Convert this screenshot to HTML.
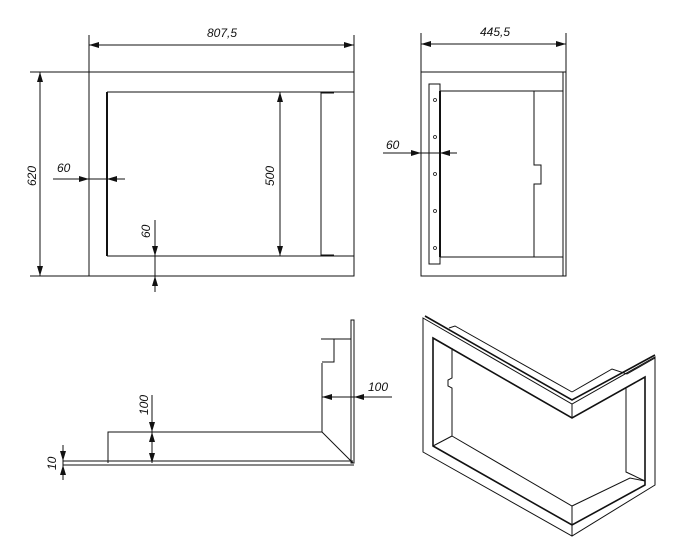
<!DOCTYPE html>
<html><head><style>
html,body{margin:0;padding:0;background:#fff;}
svg{display:block}
text{font-family:"Liberation Sans",sans-serif;font-style:italic;font-size:12px;fill:#111}
</style></head><body>
<svg width="698" height="553" viewBox="0 0 698 553" xmlns="http://www.w3.org/2000/svg">
<defs>
<marker id="a" viewBox="0 0 10 6" refX="10" refY="3" markerWidth="10" markerHeight="6" orient="auto-start-reverse" markerUnits="userSpaceOnUse"><path d="M0,0L10,3L0,6z" fill="#111"/></marker>
</defs>
<g stroke="#111" fill="none" stroke-width="1">
<!-- front view -->
<rect x="89" y="72" width="265" height="204"/>
<line x1="30" y1="72" x2="89" y2="72"/><line x1="30" y1="276" x2="89" y2="276"/>
<line x1="89" y1="35" x2="89" y2="72"/><line x1="354" y1="35" x2="354" y2="72"/>
<line x1="89" y1="45" x2="354" y2="45" marker-start="url(#a)" marker-end="url(#a)"/>
<line x1="40" y1="72" x2="40" y2="276" marker-start="url(#a)" marker-end="url(#a)"/>
<line x1="107" y1="92" x2="354" y2="92"/><line x1="107" y1="256" x2="354" y2="256"/>
<line x1="107" y1="92" x2="107" y2="256" stroke-width="2"/>
<line x1="321" y1="92" x2="321" y2="256"/>
<line x1="321" y1="93" x2="334" y2="93"/><line x1="321" y1="255" x2="334" y2="255"/>
<line x1="280" y1="92" x2="280" y2="256" marker-start="url(#a)" marker-end="url(#a)"/>
<line x1="53" y1="179" x2="125" y2="179"/>
<line x1="78" y1="179" x2="89" y2="179" marker-end="url(#a)"/>
<line x1="118" y1="179" x2="107" y2="179" marker-end="url(#a)"/>
<line x1="155" y1="220" x2="155" y2="292"/>
<line x1="155" y1="245" x2="155" y2="256" marker-end="url(#a)"/>
<line x1="155" y1="287" x2="155" y2="276" marker-end="url(#a)"/>
<!-- side view -->
<rect x="421" y="72" width="145" height="204"/>
<line x1="563" y1="72" x2="563" y2="276"/>
<line x1="421" y1="33" x2="421" y2="72"/><line x1="566" y1="33" x2="566" y2="72"/>
<line x1="421" y1="44" x2="566" y2="44" marker-start="url(#a)" marker-end="url(#a)"/>
<rect x="429" y="84" width="11" height="180"/>
<line x1="440" y1="91" x2="563" y2="91"/><line x1="440" y1="257" x2="563" y2="257"/>
<line x1="440" y1="91" x2="440" y2="257" stroke-width="2"/>
<path d="M534 91V165H541V184H534V257"/>
<g stroke-width="0.8"><circle cx="435" cy="100" r="1.5"/><circle cx="435" cy="137" r="1.5"/><circle cx="435" cy="174" r="1.5"/><circle cx="435" cy="211" r="1.5"/><circle cx="435" cy="248" r="1.5"/></g>
<line x1="383" y1="153" x2="457" y2="153"/>
<line x1="410" y1="153" x2="421" y2="153" marker-end="url(#a)"/>
<line x1="451" y1="153" x2="440" y2="153" marker-end="url(#a)"/>
<!-- section -->
<rect x="351" y="320" width="3" height="143"/>
<line x1="63" y1="461" x2="353" y2="461"/><line x1="63" y1="465" x2="354" y2="465"/>
<path d="M108 463V432H322V363"/>
<line x1="322" y1="432" x2="353" y2="463"/>
<path d="M321 339H351M334 339V362H322"/>
<line x1="152" y1="395" x2="152" y2="463"/>
<line x1="152" y1="421" x2="152" y2="432" marker-end="url(#a)"/>
<line x1="152" y1="443" x2="152" y2="432" marker-end="url(#a)"/>
<line x1="152" y1="452" x2="152" y2="463" marker-end="url(#a)"/>
<line x1="322" y1="397" x2="392" y2="397"/>
<line x1="365" y1="397" x2="354" y2="397" marker-end="url(#a)"/>
<line x1="333" y1="397" x2="322" y2="397" marker-end="url(#a)"/>
<line x1="63" y1="445" x2="63" y2="480"/>
<line x1="63" y1="452" x2="63" y2="461" marker-end="url(#a)"/>
<line x1="63" y1="474" x2="63" y2="465" marker-end="url(#a)"/>
<!-- isometric -->
<path d="M423 318L572 404L655 357V485L572 536L423 452Z"/>
<path d="M433 338L572 418L645 377V485L572 525L433 446Z" stroke-width="1.6"/>
<path d="M425 316L572 400L655 355" stroke-width="1.6"/>
<line x1="572" y1="404" x2="572" y2="418"/><line x1="572" y1="525" x2="572" y2="536"/>
<path d="M449 328L455 326L572 392"/><path d="M572 392L612 369L627 374L655 358"/>
<path d="M452 348V378L448 380V386L452 388V436L572 506L630 478L645 481"/>
<path d="M433 446L452 436"/><path d="M626 388V472L645 481"/>
<path d="M572 506V525"/>
</g>
<text x="207" y="37">807,5</text>
<text x="480" y="36">445,5</text>
<text x="57" y="172">60</text>
<text x="386" y="149">60</text>
<text x="368" y="391">100</text>
<text transform="translate(36,186) rotate(-90)">620</text>
<text transform="translate(274,186) rotate(-90)">500</text>
<text transform="translate(150,238) rotate(-90)">60</text>
<text transform="translate(148,415) rotate(-90)">100</text>
<text transform="translate(56,470) rotate(-90)">10</text>
</svg>
</body></html>
